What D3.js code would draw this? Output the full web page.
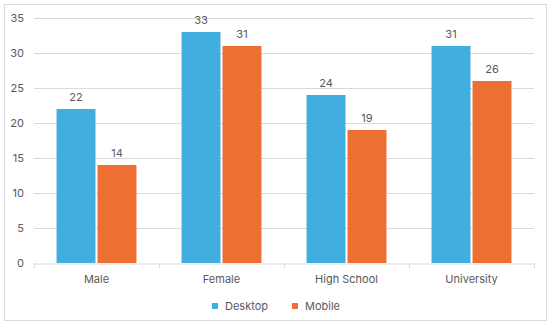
<!DOCTYPE html>
<html><head><meta charset="utf-8">
<script src="https://cdn.jsdelivr.net/npm/d3@7"></script>
<style>body{margin:0;background:#fff}svg{display:block}text{font-family:Inter,"Open Sans",sans-serif;fill:#595959}</style>
</head><body><svg id="c" width="550" height="327"></svg>
<script>
const categories = ["Male","Female","High School","University"];
const seriesNames = ["Desktop","Mobile"];
const desktop = [22,33,24,31];
const mobile = [14,31,19,26];
const yTicks = [0,5,10,15,20,25,30,35];
const colors = ["#41AEE0","#ED7032"];

const svg = d3.select("#c");
svg.append("rect").attr("x",4.5).attr("y",4.5).attr("width",542).attr("height",316)
  .attr("fill","#fff").attr("stroke","#d9d9d9");

const m = {l:34, r:534, t:18, b:263};
const x = d3.scaleBand().domain(categories).range([m.l,m.r]).paddingInner(0).paddingOuter(0);
const y = d3.scaleLinear().domain([0,35]).range([m.b,m.t]);
const xs = d3.scaleBand().domain(seriesNames).range([0,x.bandwidth()]).paddingInner(0.05).paddingOuter(0.55);

// gridlines
svg.append("g").selectAll("line").data(yTicks.filter(d=>d>0)).join("line")
  .attr("x1",m.l).attr("x2",m.r).attr("y1",d=>y(d)+0.5).attr("y2",d=>y(d)+0.5)
  .attr("stroke","#d9d9d9");

// y axis labels
const ya = svg.append("g").attr("transform",`translate(${m.l},0)`)
  .call(d3.axisLeft(y).tickValues(yTicks).tickSize(0).tickPadding(10));
ya.select(".domain").remove();
ya.selectAll("text").attr("font-size",11).attr("fill","#595959").style("font-family","Inter,sans-serif");

const data = [desktop, mobile];
const g = svg.append("g");
categories.forEach((c,i)=>{
  seriesNames.forEach((s,j)=>{
    const v = data[j][i];
    g.append("rect").attr("x",x(c)+xs(s)).attr("y",y(v)).attr("width",xs.bandwidth()).attr("height",y(0)-y(v)).attr("fill",colors[j]);
    g.append("text").attr("x",x(c)+xs(s)+xs.bandwidth()/2).attr("y",y(v)-8)
      .attr("text-anchor","middle").attr("font-size",11).text(v);
  });
});

// x axis
const xa = svg.append("g").attr("transform",`translate(0,${m.b+0.5})`)
  .call(d3.axisBottom(x).tickSize(0).tickPadding(12));
xa.select(".domain").attr("stroke","#d9d9d9");
xa.selectAll("text").attr("font-size",11).attr("fill","#595959").style("font-family","Inter,sans-serif");
svg.append("g").selectAll("line").data(d3.range(categories.length+1)).join("line")
  .attr("x1",d=>m.l+d*x.bandwidth()+0.5).attr("x2",d=>m.l+d*x.bandwidth()+0.5)
  .attr("y1",m.b).attr("y2",m.b+5).attr("stroke","#d9d9d9");

// legend
const leg = svg.append("g");
const lx = [212, 292];
seriesNames.forEach((s,j)=>{
  leg.append("rect").attr("x",lx[j]).attr("y",303).attr("width",6).attr("height",6).attr("fill",colors[j]);
  leg.append("text").attr("x",lx[j]+13).attr("y",310).attr("font-size",11).text(s);
});
</script></body></html>
